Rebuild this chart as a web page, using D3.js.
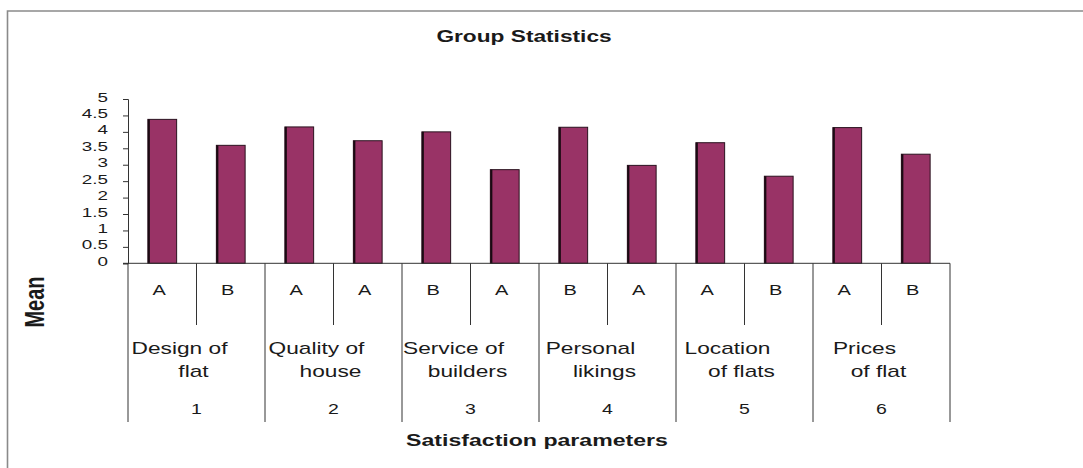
<!DOCTYPE html>
<html>
<head>
<meta charset="utf-8">
<script src="https://cdn.jsdelivr.net/npm/d3@7"></script>
<style>
  html, body { margin: 0; padding: 0; background: #fff; }
  svg { display: block; font-family: "Liberation Sans", Arial, sans-serif; }
</style>
</head>
<body>
<svg id="chart" width="1083" height="468"></svg>
<script>
// ---- data ----
const chartTitle = "Group Statistics";
const xAxisTitle = "Satisfaction parameters";
const yAxisTitle = "Mean";
const categoryLine1 = ["Design of", "Quality of", "Service of", "Personal", "Location", "Prices"];
const categoryLine2 = ["flat", "house", "builders", "likings", "of flats", "of flat"];
const categoryNumbers = ["1", "2", "3", "4", "5", "6"];
const subgroupLabels = ["A", "B", "A", "A", "B", "A", "B", "A", "A", "B", "A", "B"];
const meanValues = [4.38, 3.59, 4.15, 3.73, 4.00, 2.85, 4.14, 2.98, 3.67, 2.65, 4.13, 3.32];
const yTickValues = [0, 0.5, 1, 1.5, 2, 2.5, 3, 3.5, 4, 4.5, 5];
const yTickLabels = ["0", "0.5", "1", "1.5", "2", "2.5", "3", "3.5", "4", "4.5", "5"];

(function () {
// ---- layout ----
const svg = d3.select("#chart");
const plotLeft = 128, plotRight = 950, plotTop = 99, zeroY = 263.3;
const subLineBottom = 325, groupLineBottom = 422;
const stretch = 1.43;
const axisColor = "#333";
const textColor = "#1a1a1a";

const y = d3.scaleLinear().domain([0, 5]).range([zeroY, plotTop]);
const xBar = d3.scaleBand().domain(d3.range(meanValues.length)).range([plotLeft, plotRight])
  .paddingInner(0.58).paddingOuter(0.29);
const xSlot = d3.scaleBand().domain(d3.range(meanValues.length)).range([plotLeft, plotRight]).padding(0);
const xGroup = d3.scaleBand().domain(d3.range(categoryLine1.length)).range([plotLeft, plotRight]).padding(0);

function stretchedText(g, x, yy, txt, opts) {
  return g.append("text")
    .attr("transform", `translate(${x},${yy}) scale(${opts.sx || stretch},1)`)
    .attr("text-anchor", opts.anchor || "middle")
    .attr("font-size", opts.size)
    .attr("font-weight", opts.weight || "normal")
    .attr("fill", opts.fill || textColor)
    .text(txt);
}

// outer border (left & top)
svg.append("path")
  .attr("d", `M7.5,468 L7.5,11 L1083,11`)
  .attr("fill", "none").attr("stroke", "#8a8a8a").attr("stroke-width", 1.6);

// title
stretchedText(svg, 524, 42, chartTitle, { size: 16, weight: "bold", sx: 1.42 });

// bars
svg.append("g").selectAll("rect")
  .data(meanValues)
  .join("rect")
  .attr("x", (d, i) => xBar(i))
  .attr("y", d => y(d))
  .attr("width", xBar.bandwidth())
  .attr("height", d => zeroY - y(d))
  .attr("fill", "#993366")
  .attr("stroke", "#2b1320")
  .attr("stroke-width", 1);
// dark left edges of the bars
svg.append("g").selectAll("line")
  .data(meanValues)
  .join("line")
  .attr("x1", (d, i) => xBar(i) + 1).attr("x2", (d, i) => xBar(i) + 1)
  .attr("y1", d => y(d)).attr("y2", zeroY)
  .attr("stroke", "#1a0a12").attr("stroke-width", 2);

// y axis
const yAxisG = svg.append("g")
  .attr("transform", `translate(${plotLeft},0)`)
  .call(d3.axisLeft(y).tickValues(yTickValues).tickSize(5)
    .tickFormat((d, i) => yTickLabels[i]));
yAxisG.select(".domain").attr("stroke", axisColor);
yAxisG.selectAll(".tick line").attr("stroke", axisColor);
yAxisG.selectAll(".tick text")
  .attr("x", null).attr("dy", null)
  .attr("transform", "translate(-20,2) scale(1.45,1)")
  .attr("text-anchor", "end")
  .attr("font-size", 13)
  .attr("font-family", "Liberation Sans, Arial, sans-serif")
  .attr("fill", textColor);

// x axis line
svg.append("line")
  .attr("x1", plotLeft - 5).attr("x2", plotRight)
  .attr("y1", zeroY).attr("y2", zeroY)
  .attr("stroke", axisColor).attr("stroke-width", 1);

// subgroup dividers (short)
const subDividers = d3.range(1, meanValues.length).filter(i => i % 2 === 1);
svg.append("g").selectAll("line")
  .data(subDividers)
  .join("line")
  .attr("x1", i => xSlot(i)).attr("x2", i => xSlot(i))
  .attr("y1", zeroY).attr("y2", subLineBottom)
  .attr("stroke", axisColor).attr("stroke-width", 1);

// group dividers (long)
const groupEdges = d3.range(categoryLine1.length + 1);
svg.append("g").selectAll("line")
  .data(groupEdges)
  .join("line")
  .attr("x1", i => i < categoryLine1.length ? xGroup(i) : plotRight)
  .attr("x2", i => i < categoryLine1.length ? xGroup(i) : plotRight)
  .attr("y1", zeroY).attr("y2", groupLineBottom)
  .attr("stroke", axisColor).attr("stroke-width", 1);

// subgroup labels
const subG = svg.append("g");
subgroupLabels.forEach((t, i) => {
  stretchedText(subG, xSlot(i) + xSlot.bandwidth() / 2 - 3, 294.5, t, { size: 14 });
});

// category labels
const catG = svg.append("g");
categoryLine1.forEach((t, i) => {
  const cx = xGroup(i) + xGroup.bandwidth() / 2;
  stretchedText(catG, cx - 17, 353.5, t, { size: 16, sx: 1.42 });
  stretchedText(catG, cx - 3, 377, categoryLine2[i], { size: 16, sx: 1.42 });
  stretchedText(catG, cx, 413.5, categoryNumbers[i], { size: 15, sx: 1.3 });
});

// x axis title
stretchedText(svg, 537, 446, xAxisTitle, { size: 16.5, weight: "bold", sx: 1.4 });

// y axis title
svg.append("text")
  .attr("transform", "translate(44,302) rotate(-90) scale(1,1.35)")
  .attr("text-anchor", "middle")
  .attr("font-size", 20)
  .attr("font-weight", "bold")
  .attr("fill", textColor)
  .text(yAxisTitle);
})();
</script>
</body>
</html>
